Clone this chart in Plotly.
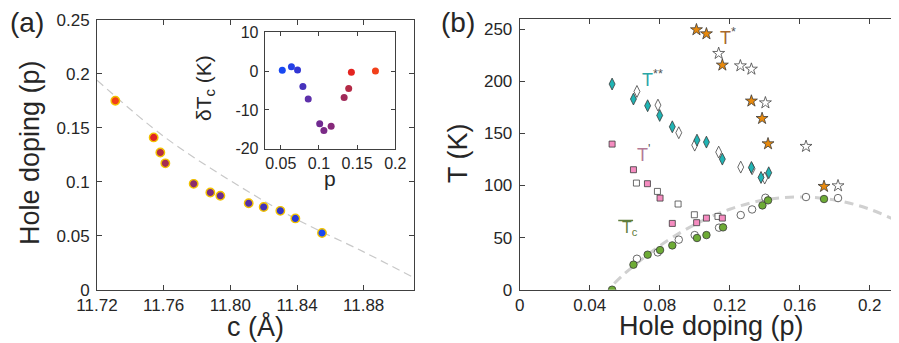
import plotly.graph_objects as go

# ---------------- data: panel (a) ----------------
c_lattice = [11.731, 11.754, 11.758, 11.761, 11.778, 11.788, 11.794, 11.811, 11.820, 11.830, 11.839, 11.855]
p_hole = [0.175, 0.141, 0.127, 0.117, 0.098, 0.090, 0.087, 0.080, 0.0766, 0.073, 0.066, 0.0525]
fit_c = [11.72, 11.76, 11.80, 11.84, 11.88, 11.9085]
fit_p = [0.194, 0.142, 0.101, 0.065, 0.035, 0.0124]

# inset
p_inset = [0.052, 0.064, 0.072, 0.079, 0.086, 0.101, 0.1065, 0.116, 0.133, 0.139, 0.1425, 0.174]
dTc = [0.2, 1.1, 0.3, -4.0, -7.2, -13.6, -15.3, -14.2, -6.8, -4.5, -0.3, 0.0]

# ---------------- data: panel (b) ----------------
tstar_p = [0.1010, 0.1067, 0.1158, 0.1324, 0.1385, 0.1419, 0.1739]
tstar_T = [249.4, 245.5, 215.5, 181.0, 164.3, 140.0, 99.1]
tstar_open_p = [0.1137, 0.1261, 0.1324, 0.1404, 0.1636, 0.1819]
tstar_open_T = [226.7, 214.8, 211.6, 179.3, 137.5, 99.7]

tss_p = [0.0528, 0.0650, 0.0731, 0.0800, 0.0872, 0.1013, 0.1067, 0.1158, 0.1324, 0.1379, 0.1423]
tss_T = [197.3, 182.9, 176.5, 167.2, 156.3, 143.5, 141.6, 125.3, 117.3, 107.7, 112.2]
tss_open_p = [0.0670, 0.0790, 0.0909, 0.1000, 0.1137, 0.1263, 0.1328, 0.1400]
tss_open_T = [190.2, 177.1, 150.6, 138.7, 132.0, 117.6, 116.0, 107.1]

tpr_p = [0.0528, 0.0650, 0.0730, 0.0802, 0.0872, 0.1011, 0.1067, 0.1158]
tpr_T = [139.7, 115.1, 101.7, 87.9, 63.6, 64.3, 68.7, 68.7]
tpr_open_p = [0.0667, 0.0787, 0.0905, 0.0998, 0.1133]
tpr_open_T = [102.3, 94.3, 82.2, 71.9, 70.3]

tc_p = [0.0528, 0.0650, 0.0731, 0.0802, 0.0872, 0.1013, 0.1067, 0.1162, 0.1387, 0.1419, 0.1739]
tc_T = [0.0, 24.0, 33.6, 38.0, 42.5, 49.6, 52.4, 59.8, 80.9, 85.7, 87.0]
tc_open_p = [0.0670, 0.0789, 0.0909, 0.1000, 0.1139, 0.1263, 0.1328, 0.1404, 0.1636, 0.1819]
tc_open_T = [29.7, 35.8, 48.0, 52.4, 59.5, 71.6, 77.0, 88.2, 88.9, 87.9]

dome_p = [0.054, 0.06, 0.08, 0.10, 0.12, 0.14, 0.16, 0.18, 0.20, 0.22]
dome_T = [6.0, 15.5, 42.0, 62.5, 77.2, 86.1, 89.0, 86.1, 77.2, 62.5]

# ---------------- styles ----------------
colors_a = ['#f2401a', '#e02424', '#b32c46', '#a52e52', '#8b2e6c', '#7a2c80',
            '#6c2c90', '#5430a6', '#4432b8', '#3434c8', '#2838d8', '#1848f2']
colors_inset = ['#1848f2', '#2440e6', '#3236d4', '#4632bc', '#5e30aa', '#702a90',
                '#7a2a86', '#86287a', '#a02a5a', '#b42a46', '#e42420', '#f2401a']

FONT = "Arial, Liberation Sans, sans-serif"
TXT = '#262626'
AX = '#404040'
W, H = 899, 343

fig = go.Figure()

# panel (a)
fig.add_trace(go.Scatter(x=fit_c, y=fit_p, mode='lines', line_shape='spline',
                         line=dict(color='#c8c8c8', width=1.2, dash='8px,5px'),
                         xaxis='x', yaxis='y', showlegend=False, hoverinfo='skip'))
fig.add_trace(go.Scatter(x=c_lattice, y=p_hole, mode='markers',
                         marker=dict(size=8.5, color=colors_a, line=dict(color='#f2c200', width=1.4)),
                         xaxis='x', yaxis='y', showlegend=False))
# inset
fig.add_trace(go.Scatter(x=p_inset, y=dTc, mode='markers',
                         marker=dict(size=7, color=colors_inset, line=dict(width=0)),
                         xaxis='x2', yaxis='y2', showlegend=False))

# panel (b)
fig.add_trace(go.Scatter(x=dome_p, y=dome_T, mode='lines', line_shape='spline',
                         line=dict(color='#d0d0d0', width=3, dash='9px,6px'),
                         xaxis='x3', yaxis='y3', showlegend=False, hoverinfo='skip'))

def mk(x, y, symbol, size, fill, lc='#3a3a3a', lw=0.8):
    fig.add_trace(go.Scatter(x=x, y=y, mode='markers',
                             marker=dict(symbol=symbol, size=size, color=fill,
                                         line=dict(color=lc, width=lw)),
                             xaxis='x3', yaxis='y3', showlegend=False))

mk(tc_open_p, tc_open_T, 'circle', 7.5, 'white', '#444444')
mk(tc_p, tc_T, 'circle', 7.5, '#6dab35')
mk(tpr_open_p, tpr_open_T, 'square', 6, 'white', '#444444')
mk(tpr_p, tpr_T, 'square', 6, '#f58cc0')
mk(tss_open_p, tss_open_T, 'diamond-tall', 8.5, 'white', '#444444')
mk(tss_p, tss_T, 'diamond-tall', 8.5, '#20b4b4')
mk(tstar_open_p, tstar_open_T, 'star', 9, 'white', '#444444')
mk(tstar_p, tstar_T, 'star', 9, '#e8890c')

def px(x): return x / W
def py(y): return (H - y) / H

axis_common = dict(showline=True, linecolor=AX, linewidth=1, mirror='ticks',
                   ticks='inside', tickcolor=AX, ticklen=5, showgrid=False,
                   zeroline=False, automargin=False,
                   tickfont=dict(family=FONT, size=17, color=TXT))
small = {**axis_common, 'ticklen': 4, 'tickfont': dict(family=FONT, size=16, color=TXT)}

fig.update_layout(
    template='none',
    width=W, height=H, autosize=False,
    margin=dict(l=0, r=0, t=0, b=0, pad=0),
    paper_bgcolor='white', plot_bgcolor='white',
    font=dict(family=FONT, color=TXT),
    showlegend=False,
    xaxis=dict(domain=[px(89), px(405.7)], range=[11.72, 11.91],
               tickvals=[11.72, 11.76, 11.80, 11.84, 11.88],
               ticktext=['11.72', '11.76', '11.80', '11.84', '11.88'],
               anchor='y', **axis_common),
    yaxis=dict(domain=[py(281.7), py(11.7)], range=[0, 0.25],
               tickvals=[0, 0.05, 0.1, 0.15, 0.2, 0.25],
               ticktext=['0', '0.05', '0.1', '0.15', '0.2', '0.25'],
               anchor='x', ticklabelstandoff=3, **axis_common),
    xaxis2=dict(domain=[px(256.7), px(387.3)], range=[0.029, 0.2],
                tickvals=[0.05, 0.1, 0.15, 0.2],
                ticktext=['0.05', '0.1', '0.15', '0.2'],
                anchor='y2', **small),
    yaxis2=dict(domain=[py(140.7), py(24.3)], range=[-20, 10],
                tickvals=[-20, -10, 0, 10], ticktext=['-20', '-10', '0', '10'],
                anchor='x2', ticklabelstandoff=2, **small),
    xaxis3=dict(domain=[px(511.7), px(896.7)], range=[0, 0.22],
                tickvals=[0, 0.04, 0.08, 0.12, 0.16, 0.2],
                ticktext=['0', '0.04', '0.08', '0.12', '0.16', '0.2'],
                anchor='y3', **axis_common),
    yaxis3=dict(domain=[py(281.7), py(10.7)], range=[0, 260],
                tickvals=[0, 50, 100, 150, 200, 250],
                ticktext=['0', '50', '100', '150', '200', '250'],
                anchor='x3', ticklabelstandoff=3, **axis_common),
)

ann = []
def pa(text, x, y, size, angle=0):
    ann.append(dict(text=text, x=px(x), y=py(y), xref='paper', yref='paper',
                    showarrow=False, textangle=angle, xanchor='center', yanchor='middle',
                    font=dict(family=FONT, size=size, color=TXT)))

pa('(a)', 18.5, 14, 28)
pa('(b)', 450, 14, 28)
pa('Hole doping (p)', 22, 145, 27, angle=-90)
pa('c (Å)', 247, 318, 27)
pa('T (K)', 450, 145, 27, angle=-90)
pa('Hole doping (p)', 703, 318, 27)
pa('δT<sub>c</sub> (K)', 197, 80, 21, angle=-90)
pa('p', 321.7, 171, 21)

def da(text, x, y, size, color):
    ann.append(dict(text=text, x=x, y=y, xref='x3', yref='y3', showarrow=False,
                    xanchor='center', yanchor='middle',
                    font=dict(family=FONT, size=size, color=color)))

da("T<sup><span style='color:#555555'>*</span></sup>", 0.1190, 243, 18, '#a8682c')
da("T<sup><span style='color:#555555'>**</span></sup>", 0.0759, 203, 18, '#2aa6a6')
da("T<sup><span style='color:#555555'>'</span></sup>", 0.0707, 131, 18, '#b47a96')
da("T<sub>c</sub>", 0.0630, 59, 16, '#5f7d3c')

fig.update_layout(annotations=ann)
fig.add_shape(type='line', xref='x3', yref='y3', x0=0.0563, x1=0.0648, y0=66.5, y1=66.5,
              line=dict(color='#5f7d3c', width=1.5))

fig.write_html("out.html")
